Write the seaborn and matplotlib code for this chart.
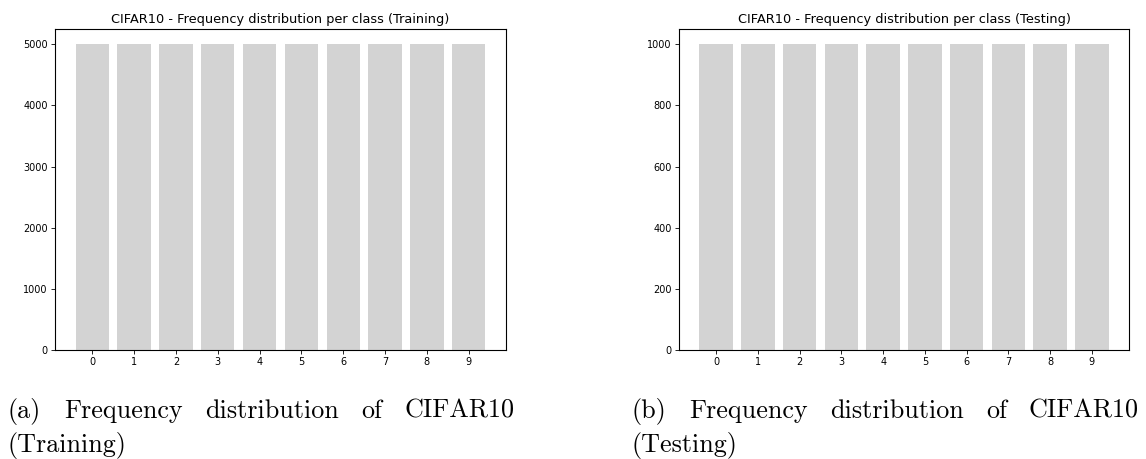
import matplotlib
matplotlib.use("Agg")
import matplotlib.pyplot as plt
import seaborn as sns
import pandas as pd

# ---- data ----
classes = ["0", "1", "2", "3", "4", "5", "6", "7", "8", "9"]
train_counts = [5000, 5000, 5000, 5000, 5000, 5000, 5000, 5000, 5000, 5000]
test_counts = [1000, 1000, 1000, 1000, 1000, 1000, 1000, 1000, 1000, 1000]
titles = ["CIFAR10 - Frequency distribution per class (Training)",
          "CIFAR10 - Frequency distribution per class (Testing)"]
captions = [("(a) Frequency distribution of CIFAR10", "(Training)"),
            ("(b) Frequency distribution of CIFAR10", "(Testing)")]

W, H = 1146, 459
fig = plt.figure(figsize=(W / 100, H / 100), dpi=100)

def px_axes(x0, x1, ytop, ybot):
    return fig.add_axes([x0 / W, 1 - ybot / H, (x1 - x0) / W, (ybot - ytop) / H])

ax1 = px_axes(55, 506, 29, 350)
ax2 = px_axes(679, 1129, 29, 350)

for ax, counts, title in [(ax1, train_counts, titles[0]), (ax2, test_counts, titles[1])]:
    df = pd.DataFrame({"cls": classes, "count": counts})
    sns.barplot(data=df, x="cls", y="count", color="#d3d3d3", saturation=1,
                width=0.8, ax=ax, errorbar=None)
    ax.set_xlim(-0.89, 9.89)
    ax.set_ylim(0, max(counts) * 1.05)
    ax.set_xlabel("")
    ax.set_ylabel("")
    ax.set_title(title, fontsize=9.3, pad=4)
    ax.tick_params(labelsize=7, length=2.8, width=0.6, pad=2.5)
    for s in ax.spines.values():
        s.set_linewidth(0.8)

# ---- captions (justified first line) ----
renderer = fig.canvas.get_renderer()
cap_font = dict(family="cmr10", fontsize=18.8, color="black")

def justified_line(text, x0, x1, ybase):
    words = text.split()
    objs = [fig.text(0, 1 - ybase / H, w, ha="left", va="baseline", **cap_font) for w in words]
    widths = [o.get_window_extent(renderer).width for o in objs]
    gap = ((x1 - x0) - sum(widths)) / (len(words) - 1)
    x = x0
    for o, w in zip(objs, widths):
        o.set_x(x / W)
        x += w + gap

for (l1, l2), (x0, x1) in zip(captions, [(8, 515), (632, 1139)]):
    justified_line(l1, x0, x1, 418)
    fig.text(x0 / W, 1 - 452 / H, l2, ha="left", va="baseline", **cap_font)

fig.savefig("out.png", dpi=100)
